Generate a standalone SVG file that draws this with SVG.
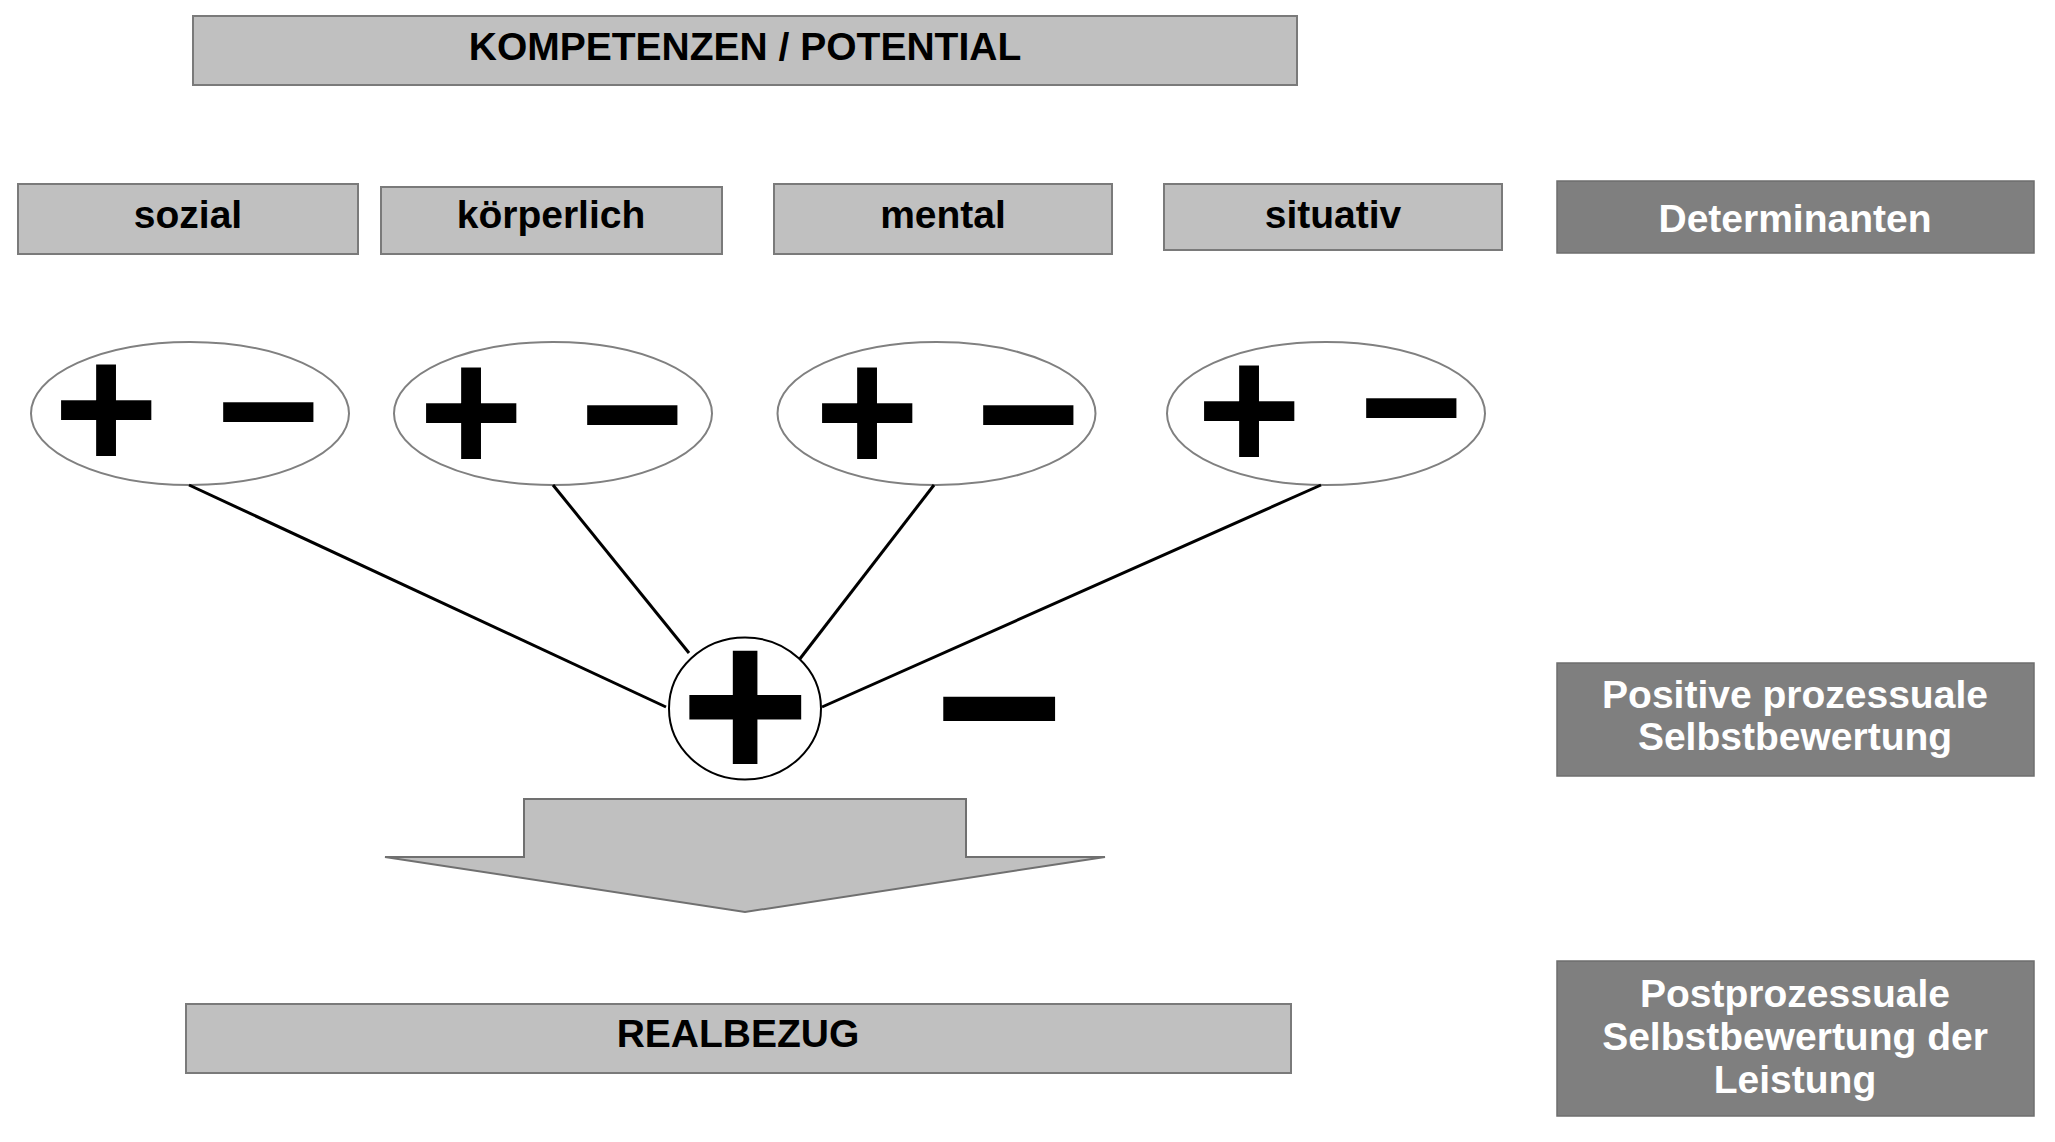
<svg xmlns="http://www.w3.org/2000/svg" width="2055" height="1142" viewBox="0 0 2055 1142">
<style>
.bg{fill:#ffffff}
.box{fill:#c0c0c0;stroke:#7a7a7a;stroke-width:2}
.dark{fill:#7f7f7f;stroke:#6e6e6e;stroke-width:1.5}
.t{font-family:"Liberation Sans",Arial,sans-serif;font-weight:bold;font-size:39px;fill:#000;text-anchor:middle}
.tw{font-family:"Liberation Sans",Arial,sans-serif;font-weight:bold;font-size:39px;fill:#fff;text-anchor:middle}
.ell{fill:#fff;stroke:#808080;stroke-width:2}
.sym{font-family:"Liberation Sans",Arial,sans-serif;font-weight:bold;font-size:180px;fill:#000;text-anchor:middle}
.symL{font-family:"Liberation Sans",Arial,sans-serif;font-weight:bold;font-size:223px;fill:#000;text-anchor:middle}
.ln{stroke:#000;stroke-width:3;fill:none}
.arrow{fill:#c0c0c0;stroke:#707070;stroke-width:2}
</style>
<rect class="bg" x="0" y="0" width="2055" height="1142"/>
<g id="kompetenzen"><rect class="box" x="193" y="16" width="1104" height="69"/><text class="t" x="745" y="60">KOMPETENZEN / POTENTIAL</text></g>
<g id="sozial"><rect class="box" x="18" y="184" width="340" height="70"/><text class="t" x="188" y="228">sozial</text></g>
<g id="koerperlich"><rect class="box" x="381" y="187" width="341" height="67"/><text class="t" x="551" y="228">körperlich</text></g>
<g id="mental"><rect class="box" x="774" y="184" width="338" height="70"/><text class="t" x="943" y="228">mental</text></g>
<g id="situativ"><rect class="box" x="1164" y="184" width="338" height="66"/><text class="t" x="1333" y="228">situativ</text></g>
<g id="determinanten"><rect class="dark" x="1557" y="181" width="477" height="72"/><text class="tw" x="1795" y="232">Determinanten</text></g>
<g id="eval-sozial"><ellipse class="ell" cx="190" cy="413.5" rx="159" ry="71.5"/><text class="sym" x="106" y="470">+</text><text class="sym" x="268" y="472">−</text></g>
<g id="eval-koerperlich"><ellipse class="ell" cx="553" cy="413.5" rx="159" ry="71.5"/><text class="sym" x="471" y="473">+</text><text class="sym" x="632" y="475">−</text></g>
<g id="eval-mental"><ellipse class="ell" cx="936.5" cy="413.5" rx="159" ry="71.5"/><text class="sym" x="867" y="473">+</text><text class="sym" x="1028" y="475">−</text></g>
<g id="eval-situativ"><ellipse class="ell" cx="1326" cy="413.5" rx="159" ry="71.5"/><text class="sym" x="1249" y="471">+</text><text class="sym" x="1411" y="468">−</text></g>
<g id="connectors">
<line class="ln" x1="189" y1="485" x2="666" y2="707"/>
<line class="ln" x1="553" y1="485" x2="689" y2="653"/>
<line class="ln" x1="934" y1="485" x2="799" y2="660"/>
<line class="ln" x1="1321" y1="485" x2="822" y2="707"/>
</g>
<g id="center-eval"><ellipse cx="745" cy="708.5" rx="76" ry="71" fill="#fff" stroke="#000" stroke-width="2"/><text class="symL" x="745" y="782">+</text></g>
<g id="center-minus"><text class="symL" x="999" y="783">−</text></g>
<g id="arrow"><polygon class="arrow" points="524,799 966,799 966,857 1105,857 745,912 385,857 524,857"/></g>
<g id="positive"><rect class="dark" x="1557" y="663" width="477" height="113"/><text class="tw" x="1795" y="708">Positive prozessuale</text><text class="tw" x="1795" y="750">Selbstbewertung</text></g>
<g id="postprozessuale"><rect class="dark" x="1557" y="961" width="477" height="155"/><text class="tw" x="1795" y="1007">Postprozessuale</text><text class="tw" x="1795" y="1050">Selbstbewertung der</text><text class="tw" x="1795" y="1093">Leistung</text></g>
<g id="realbezug"><rect class="box" x="186" y="1004" width="1105" height="69"/><text class="t" x="738" y="1047">REALBEZUG</text></g>
</svg>
